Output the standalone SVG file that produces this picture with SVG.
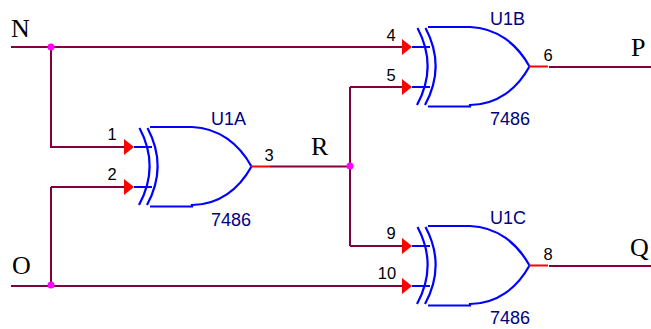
<svg xmlns="http://www.w3.org/2000/svg" width="651" height="329" viewBox="0 0 651 329">
<style>
.w{fill:none;stroke:#800040;stroke-width:2}
.b{fill:none;stroke:#0000ff;stroke-width:2.200}
.r{fill:none;stroke:#ff0000;stroke-width:2}
.a{fill:#ff0000;stroke:none}
.d{fill:#ff00ff;stroke:none}
text{font-family:"Liberation Sans",Arial,sans-serif}
.p{font-size:16.500px;fill:#000}
.n{font-size:18px;fill:#000080}
.s{font-family:"Liberation Serif","Times New Roman",serif;font-size:26px;fill:#000}
</style>
<defs>
<g id="xor">
<path class="b" d="M134 147H152M134 187H152"/>
<path class="b" d="M139.500 128Q160 166.500 139 205M147.500 128Q168 166.500 147 205"/>
<path class="b" d="M150 127H192C219 128 239 144 251.500 166.500C239 189 219 205 192 205V206.500H150"/>
<path class="r" d="M251 166.500H270"/>
<path class="a" d="M124 139L134 147L124 155ZM124 179L134 187L124 195Z"/>
</g>
</defs>
<g id="connectors">
<path class="w" d="M11 47H403M51 47V147H124M51 187H124M51 187V286M11 286H403"/>
<path class="w" d="M270 166.500H350M350 87H403M350 87V246M350 246H403"/>
<path class="w" d="M549 67H651M549 266H651"/>
<circle class="d" cx="51" cy="47" r="3.500"/>
<circle class="d" cx="51" cy="285" r="3.500"/>
<circle class="d" cx="350" cy="166" r="3.500"/>
</g>
<g id="U1A">
<use href="#xor"/>
<text class="p" x="112" y="140" text-anchor="middle">1</text>
<text class="p" x="112" y="180" text-anchor="middle">2</text>
<text class="p" x="269" y="161" text-anchor="middle">3</text>
<text class="n" x="211" y="125">U1A</text>
<text class="n" x="211" y="226">7486</text>
</g>
<g id="U1B">
<use href="#xor" x="278" y="-100"/>
<text class="p" x="391" y="41" text-anchor="middle">4</text>
<text class="p" x="391" y="81" text-anchor="middle">5</text>
<text class="p" x="548" y="61" text-anchor="middle">6</text>
<text class="n" x="490" y="25">U1B</text>
<text class="n" x="490" y="125">7486</text>
</g>
<g id="U1C">
<use href="#xor" x="278" y="99"/>
<text class="p" x="391" y="239" text-anchor="middle">9</text>
<text class="p" x="387" y="279" text-anchor="middle">10</text>
<text class="p" x="548" y="260" text-anchor="middle">8</text>
<text class="n" x="490" y="224">U1C</text>
<text class="n" x="490" y="324">7486</text>
</g>
<g id="labels">
<text class="s" x="11" y="37">N</text>
<text class="s" x="12" y="274">O</text>
<text class="s" x="311" y="155">R</text>
<text class="s" x="631" y="56">P</text>
<text class="s" x="630" y="256">Q</text>
</g>
</svg>
